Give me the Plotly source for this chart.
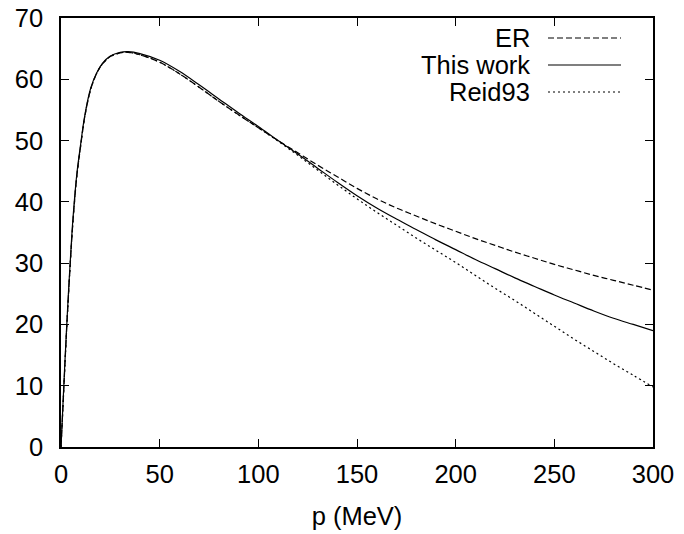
import plotly.graph_objects as go

# momentum grid (MeV)
p = [0, 1, 2, 3, 4, 5, 6, 8, 10, 12, 15, 18, 21, 25, 30, 34, 40, 50, 60, 70, 80, 90, 100,
     110, 120, 130, 140, 150, 160, 170, 180, 190, 200, 210, 220, 230, 240, 250, 260, 270,
     280, 290, 300]

this_work = [0, 7, 14, 20.5, 26.5, 32, 37, 44.5, 49.5, 54, 58.5, 61, 62.6, 63.8, 64.4, 64.5,
             64.2, 63.1, 61.3, 59.1, 56.8, 54.5, 52.3, 50.0, 47.8, 45.5, 43.2, 41.0, 39.0,
             37.2, 35.5, 33.8, 32.2, 30.6, 29.1, 27.6, 26.2, 24.8, 23.5, 22.2, 21.0, 20.0, 19.0]

er = [0, 6.6, 13.5, 20.0, 26.0, 31.5, 36.5, 44.1, 49.2, 53.8, 58.3, 60.9, 62.5, 63.7, 64.3,
      64.4, 64.0, 62.8, 60.9, 58.7, 56.4, 54.2, 52.1, 50.0, 48.0, 46.0, 44.1, 42.2, 40.5,
      39.0, 37.7, 36.4, 35.2, 34.0, 32.9, 31.8, 30.8, 29.8, 28.9, 28.0, 27.2, 26.4, 25.6]

reid93 = [0, 6.6, 13.5, 20.0, 26.0, 31.5, 36.5, 44.1, 49.2, 53.8, 58.3, 60.9, 62.5, 63.7, 64.3,
          64.4, 64.0, 62.8, 60.9, 58.7, 56.4, 54.2, 52.1, 49.9, 47.6, 45.2, 42.8, 40.5, 38.3,
          36.2, 34.1, 32.1, 30.1, 28.0, 25.9, 23.9, 21.8, 19.7, 17.6, 15.6, 13.6, 11.7, 9.8]

series_names = ["ER", "This work", "Reid93"]
series_data = [er, this_work, reid93]
series_dash = ["6px,3px", "solid", "2px,3px"]

FONT = dict(family="Liberation Sans, Arial", size=25.5, color="black")

fig = go.Figure()
for name, ys, dash in zip(series_names, series_data, series_dash):
    fig.add_trace(go.Scatter(x=p, y=ys, mode="lines", name=name, line_shape="spline",
                             line=dict(color="black", width=1.2, dash=dash),
                             showlegend=False))

# gnuplot-style legend: text right-aligned, line sample on the right
L, R, T, B = 61, 653, 18, 447
def px(x):
    return (x - L) / (R - L)
def py(y):
    return (B - y) / (B - T)

leg_y = [38, 65, 92]
for name, dash, yy in zip(series_names, series_dash, leg_y):
    fig.add_annotation(x=px(532), y=py(yy), xref="paper", yref="paper", text=name,
                       showarrow=False, xanchor="right", yanchor="middle", font=FONT)
    fig.add_shape(type="line", xref="paper", yref="paper", x0=px(548), x1=px(621),
                  y0=py(yy), y1=py(yy), line=dict(color="black", width=1.2, dash=dash))

axis_common = dict(showgrid=False, zeroline=False, showline=True, linecolor="black",
                   linewidth=1.5, mirror="ticks", ticks="inside", ticklen=8,
                   tickcolor="black", tickwidth=1, automargin=False, tickfont=FONT)

fig.update_xaxes(range=[0, 300], tickvals=[0, 50, 100, 150, 200, 250, 300],
                 ticklabelstandoff=4,
                 title=dict(text="p (MeV)", standoff=20, font=FONT),
                 **axis_common)
fig.update_yaxes(range=[0, 70], tickvals=[0, 10, 20, 30, 40, 50, 60, 70],
                 ticklabelstandoff=11, **axis_common)

fig.update_layout(width=684, height=534, margin=dict(l=L, r=684 - R, t=T, b=534 - B),
                  paper_bgcolor="white", plot_bgcolor="white")

fig.write_html("out.html", config={"displayModeBar": False},
               post_script="document.body.style.margin='0';")
